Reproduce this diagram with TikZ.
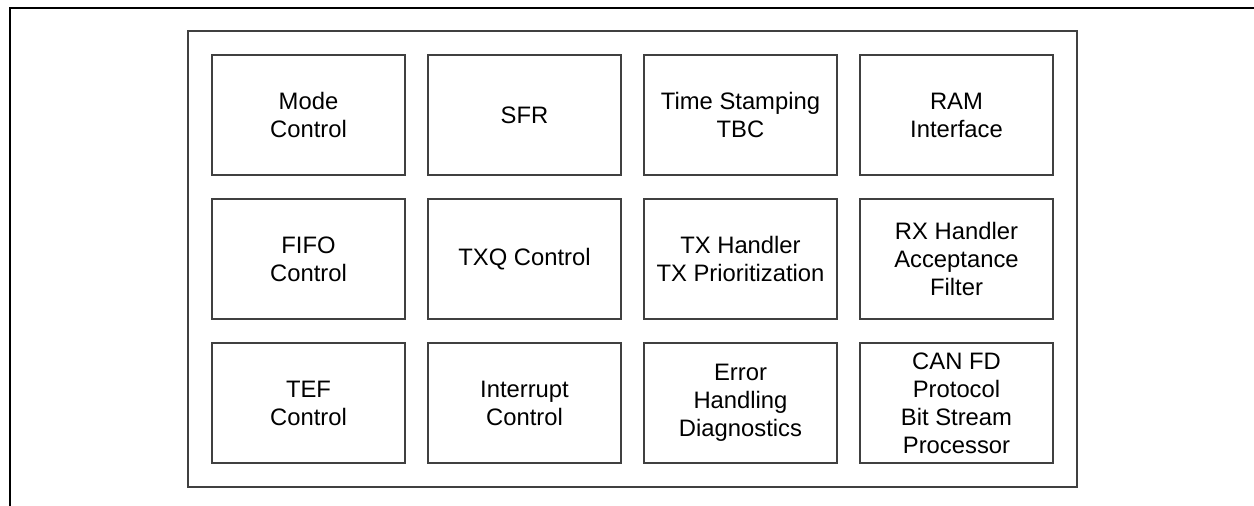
\documentclass[tikz,border=0pt]{standalone}
\usepackage{fontspec}
\setmainfont{Liberation Sans}
\definecolor{framegray}{RGB}{64,64,64}
\begin{document}
\begin{tikzpicture}[x=0.5pt, y=-0.5pt,
  blk/.style={draw=framegray, line width=0.6pt, minimum width=96.5pt, minimum height=60pt, inner sep=0pt, align=center, font=\fontsize{11.9pt}{14pt}\selectfont}]
\useasboundingbox (0,0) rectangle (1254,506);
\draw[line width=0.9pt] (1254,8) -- (10,8) -- (10,506);
\draw[framegray, line width=0.6pt] (188,31) rectangle (1077,487);
\node[blk] (modectl) at (308.5,115){Mode\\Control};
\node[blk] (sfr) at (524.5,115){SFR};
\node[blk] (tstamp) at (740.5,115){Time Stamping\\TBC};
\node[blk] (ramif) at (956.5,115){RAM\\Interface};
\node[blk] (fifoctl) at (308.5,259){FIFO\\Control};
\node[blk] (txqctl) at (524.5,259){TXQ Control};
\node[blk] (txhdl) at (740.5,259){TX Handler\\TX Prioritization};
\node[blk] (rxhdl) at (956.5,259){RX Handler\\Acceptance\\Filter};
\node[blk] (tefctl) at (308.5,403){TEF\\Control};
\node[blk] (intctl) at (524.5,403){Interrupt\\Control};
\node[blk] (errhdl) at (740.5,403){Error\\Handling\\Diagnostics};
\node[blk] (canfd) at (956.5,403){CAN FD\\Protocol\\Bit Stream\\Processor};
\end{tikzpicture}
\end{document}
